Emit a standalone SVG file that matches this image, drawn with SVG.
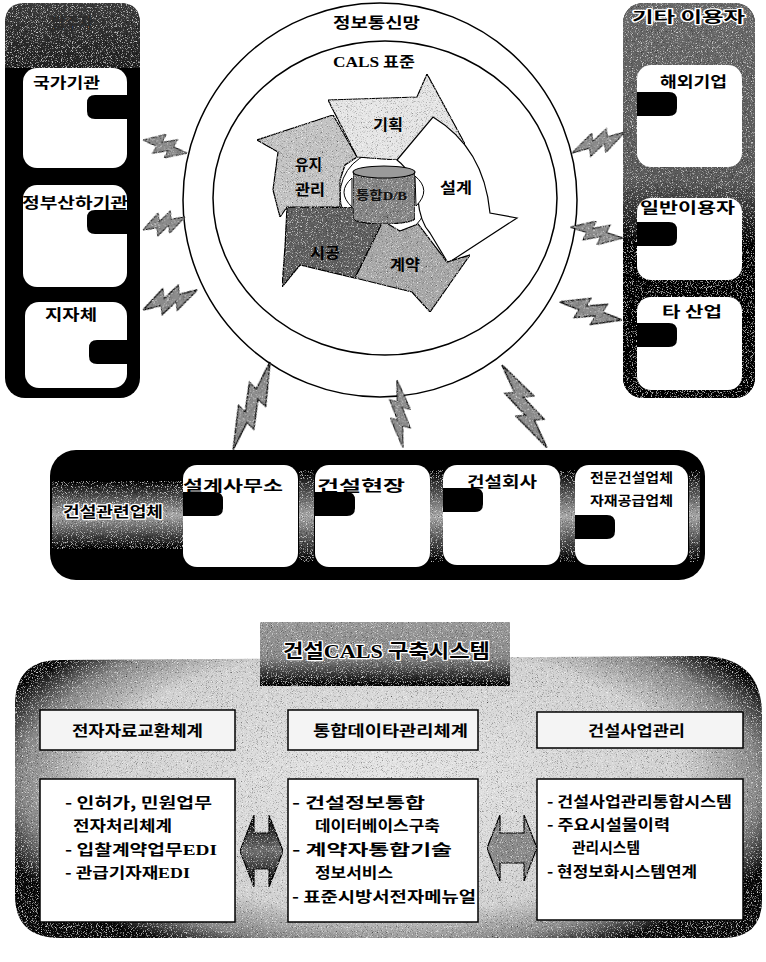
<svg xmlns="http://www.w3.org/2000/svg" width="766" height="962" viewBox="0 0 766 962">
<defs>
<style>
.k{font-family:"Noto Sans CJK KR","Noto Sans",sans-serif;font-weight:700;fill:#000}
.s{font-family:"Liberation Serif",serif;font-weight:700}
.halo{stroke:#fff;stroke-width:2.4;paint-order:stroke;stroke-linejoin:round}
.wbox{fill:#fff}
.edge{stroke:#000;stroke-width:1.5}
.bolt{fill:#8c8c8c;stroke:#000;stroke-width:1.2;vector-effect:non-scaling-stroke}
.tab{fill:#000}
</style>
<filter id="grain" x="0" y="0" width="1" height="1">
<feTurbulence type="fractalNoise" baseFrequency="1.2" numOctaves="1" seed="7" result="n"/>
<feColorMatrix in="n" type="matrix" values="0 0 0 0 0  0 0 0 0 0  0 0 0 0 0  3 0 0 0 -1.62" result="d"/>
<feComposite in="d" in2="SourceAlpha" operator="in" result="dk"/>
<feColorMatrix in="n" type="matrix" values="0 0 0 0 1  0 0 0 0 1  0 0 0 0 1  0 -3 0 0 1.3" result="w"/>
<feComposite in="w" in2="SourceAlpha" operator="in" result="wt"/>
<feMerge><feMergeNode in="SourceGraphic"/><feMergeNode in="dk"/><feMergeNode in="wt"/></feMerge>
</filter>
<linearGradient id="hdrL" x1="0" y1="0" x2="0" y2="1">
<stop offset="0" stop-color="#3c3c3c"/><stop offset="1" stop-color="#222"/>
</linearGradient>
<linearGradient id="hdrR" x1="0" y1="0" x2="0" y2="1">
<stop offset="0" stop-color="#6a6a6a"/><stop offset="0.45" stop-color="#5a5a5a"/><stop offset="0.62" stop-color="#000"/><stop offset="1" stop-color="#000"/>
</linearGradient>
<linearGradient id="band" x1="0" y1="0" x2="0" y2="1">
<stop offset="0" stop-color="#000"/><stop offset="0.5" stop-color="#a8a8a8"/><stop offset="1" stop-color="#000"/>
</linearGradient>
<linearGradient id="title" x1="0" y1="0" x2="0" y2="1">
<stop offset="0" stop-color="#9a9a9a"/><stop offset="0.55" stop-color="#8a8a8a"/><stop offset="1" stop-color="#000"/>
</linearGradient>
<linearGradient id="dark2" x1="0" y1="0" x2="0" y2="1">
<stop offset="0" stop-color="#000"/><stop offset="0.5" stop-color="#707070"/><stop offset="1" stop-color="#000"/>
</linearGradient>
<radialGradient id="gBig" gradientUnits="userSpaceOnUse" cx="390" cy="780" r="420" gradientTransform="translate(390 780) scale(1 0.45) translate(-390 -780)">
<stop offset="0" stop-color="#e6e6e6"/><stop offset="0.7" stop-color="#d2d2d2"/><stop offset="0.88" stop-color="#888"/><stop offset="1" stop-color="#111"/>
</radialGradient>
<path id="boltShape" d="M0,0 L45,-12 L41,-3 L72,-10 L68,-2 L100,0 L55,11 L59,3 L28,10 L32,2 Z"/>
<path id="tabL" d="M40,0 H8 Q0,0 0,8 V16 Q0,24 8,24 H40 Z"/>
<path id="tabR" d="M0,0 H32 Q40,0 40,8 V16 Q40,24 32,24 H0 Z"/>
</defs>

<rect width="766" height="962" fill="#fff"/>

<!-- client organisations (left column) -->
<g id="clients">
<rect x="5" y="3" width="135" height="395" rx="20" fill="#000"/>
<path d="M5,68 V23 Q5,3 25,3 H120 Q140,3 140,23 V68 Z" fill="url(#hdrL)" filter="url(#grain)"/>
<text x="72" y="28" class="k" font-size="15" text-anchor="middle" style="fill:#2a2a2a">발주자</text>
<rect class="wbox" x="23" y="68" width="104" height="100" rx="14"/>
<rect class="wbox" x="23" y="185" width="104" height="102" rx="14"/>
<rect class="wbox" x="25" y="302" width="102" height="86" rx="14"/>
<use href="#tabL" class="tab" x="87" y="95"/>
<use href="#tabL" class="tab" x="87" y="210"/>
<use href="#tabL" class="tab" x="89" y="340"/>
<text class="k" x="33" y="88" font-size="15" textLength="67" lengthAdjust="spacingAndGlyphs">국가기관</text>
<text class="k" x="22" y="208" font-size="15" textLength="106" lengthAdjust="spacingAndGlyphs">정부산하기관</text>
<text class="k" x="45" y="320" font-size="15" textLength="52" lengthAdjust="spacingAndGlyphs">지자체</text>
</g>

<!-- other users (right column) -->
<g id="others">
<rect x="623" y="3" width="132" height="395" rx="20" fill="#000"/>
<rect x="623" y="3" width="132" height="395" rx="20" fill="url(#hdrR)" filter="url(#grain)"/>
<text class="k halo" x="632" y="22" font-size="15" textLength="113" lengthAdjust="spacingAndGlyphs">기타 이용자</text>
<rect class="wbox" x="637" y="65" width="105" height="102" rx="14"/>
<rect class="wbox" x="637" y="198" width="105" height="82" rx="14"/>
<rect class="wbox" x="637" y="297" width="105" height="93" rx="14"/>
<use href="#tabR" class="tab" x="637" y="92"/>
<use href="#tabR" class="tab" x="637" y="222"/>
<use href="#tabR" class="tab" x="637" y="323"/>
<text class="k" x="660" y="87" font-size="15" textLength="67" lengthAdjust="spacingAndGlyphs">해외기업</text>
<text class="k" x="640" y="213" font-size="15" textLength="95" lengthAdjust="spacingAndGlyphs">일반이용자</text>
<text class="k" x="662" y="317" font-size="15" textLength="60" lengthAdjust="spacingAndGlyphs">타 산업</text>
</g>

<!-- network rings with the CALS life-cycle -->
<g id="network">
<circle cx="380" cy="200" r="197" fill="#fff" stroke="#000" stroke-width="1.5"/>
<ellipse cx="385" cy="198" rx="172" ry="157" fill="#fff" stroke="#000" stroke-width="1.5"/>
<text class="k" x="333" y="28" font-size="15" textLength="87" lengthAdjust="spacingAndGlyphs">정보통신망</text>
<text class="k" x="333" y="67" font-size="15" textLength="82" lengthAdjust="spacingAndGlyphs"><tspan class="s">CALS</tspan> 표준</text>
</g>

<g id="lifecycle">
<circle cx="384" cy="195" r="44" fill="#fff" stroke="#000" stroke-width="1"/>
<path id="maintain" d="M257,140 L333,115 L357,157 L345,165 L340,180 L340,207 L287,207 L280,217 L273,190 L278,152 Z" fill="#c4c4c4" stroke="#000" stroke-width="1.2" filter="url(#grain)"/>
<path id="plan" d="M328,100 L417,97 L427,74 L465,144 L397,160 L357,157 Z" fill="#e6e6e6" stroke="#000" stroke-width="1.2" filter="url(#grain)"/>
<path id="design" d="M397,160 L433,117 Q484,148 490,213 L517,218 L448,263 L430,233 Q420,222 418,200 Q414,173 397,160 Z" fill="#fff" stroke="#000" stroke-width="1.2"/>
<path id="build" d="M287,207 L373,208 L383,221 L355,278 L300,265 L282,287 L285,247 Z" fill="#5e5e5e" stroke="#000" stroke-width="1.2" filter="url(#grain)"/>
<path id="contract" d="M383,221 L400,231 L418,224 L447,262 L470,255 L430,312 L412,292 L355,278 Z" fill="#a8a8a8" stroke="#000" stroke-width="1.2" filter="url(#grain)"/>
<path d="M352,178 Q336,192 352,207 Z" fill="#fff" stroke="#000" stroke-width="1"/>
<path d="M415,176 Q432,190 416,206 Z" fill="#fff" stroke="#000" stroke-width="1"/>
<g id="db">
<path d="M353,172 V218 A31,6 0 0 0 415,218 V172 Z" fill="#858585" stroke="#000" stroke-width="1.2" filter="url(#grain)"/>
<ellipse cx="384" cy="172" rx="31" ry="6" fill="#9a9a9a" stroke="#000" stroke-width="1.2"/>
<text class="k" x="356" y="200" font-size="12" textLength="51" lengthAdjust="spacingAndGlyphs" style="fill:#111">통합<tspan class="s">D/B</tspan></text>
</g>
<text class="k" x="373" y="130" font-size="15" textLength="30" lengthAdjust="spacingAndGlyphs">기획</text>
<text class="k" x="295" y="170" font-size="15" textLength="27" lengthAdjust="spacingAndGlyphs">유지</text>
<text class="k" x="295" y="195" font-size="15" textLength="30" lengthAdjust="spacingAndGlyphs">관리</text>
<text class="k" x="440" y="193" font-size="15" textLength="32" lengthAdjust="spacingAndGlyphs">설계</text>
<text class="k" x="310" y="258" font-size="15" textLength="30" lengthAdjust="spacingAndGlyphs">시공</text>
<text class="k" x="390" y="270" font-size="15" textLength="30" lengthAdjust="spacingAndGlyphs">계약</text>
</g>

<!-- construction-related firms (bottom bar) -->
<g id="firms">
<rect x="50" y="450" width="655" height="130" rx="26" fill="#000"/>
<rect x="52" y="481" width="131" height="68" fill="url(#band)" filter="url(#grain)"/>
<rect x="299" y="470" width="15" height="92" fill="url(#band)" filter="url(#grain)"/>
<rect x="430" y="470" width="13" height="92" fill="url(#band)" filter="url(#grain)"/>
<rect x="560" y="470" width="15" height="92" fill="url(#band)" filter="url(#grain)"/>
<rect x="689" y="470" width="11" height="92" fill="url(#band)" filter="url(#grain)"/>
<text class="k halo" x="63" y="517" font-size="15" textLength="100" lengthAdjust="spacingAndGlyphs">건설관련업체</text>
<rect class="wbox" x="183" y="465" width="115" height="102" rx="14"/>
<rect class="wbox" x="315" y="465" width="115" height="102" rx="14"/>
<rect class="wbox" x="443" y="465" width="117" height="100" rx="14"/>
<rect class="wbox" x="575" y="465" width="113" height="100" rx="14"/>
<use href="#tabR" class="tab" x="183" y="492"/>
<use href="#tabR" class="tab" x="315" y="492"/>
<use href="#tabR" class="tab" x="443" y="488"/>
<use href="#tabR" class="tab" x="575" y="515"/>
<text class="k" x="183" y="491" font-size="15" textLength="100" lengthAdjust="spacingAndGlyphs">설계사무소</text>
<text class="k" x="317" y="491" font-size="15" textLength="88" lengthAdjust="spacingAndGlyphs">건설현장</text>
<text class="k" x="467" y="487" font-size="15" textLength="70" lengthAdjust="spacingAndGlyphs">건설회사</text>
<text class="k" x="590" y="482" font-size="13" textLength="83" lengthAdjust="spacingAndGlyphs">전문건설업체</text>
<text class="k" x="590" y="505" font-size="13" textLength="83" lengthAdjust="spacingAndGlyphs">자재공급업체</text>
</g>

<!-- wireless links between the parties and the network -->
<g id="links">
<use href="#boltShape" class="bolt" filter="url(#grain)" transform="translate(143,140) rotate(16.5) scale(0.46,1)"/>
<use href="#boltShape" class="bolt" filter="url(#grain)" transform="translate(143,230) rotate(-17.2) scale(0.44,1)"/>
<use href="#boltShape" class="bolt" filter="url(#grain)" transform="translate(143,310) rotate(-20.3) scale(0.58,1.1)"/>
<use href="#boltShape" class="bolt" filter="url(#grain)" transform="translate(625,132) rotate(158.4) scale(0.57,1)"/>
<use href="#boltShape" class="bolt" filter="url(#grain)" transform="translate(623,238) rotate(191.7) scale(0.54,1)"/>
<use href="#boltShape" class="bolt" filter="url(#grain)" transform="translate(622,320) rotate(196.2) scale(0.65,1.1)"/>
<use href="#boltShape" class="bolt" filter="url(#grain)" transform="translate(270,362) rotate(112.8) scale(0.95,1.1)"/>
<use href="#boltShape" class="bolt" filter="url(#grain)" transform="translate(397,380) rotate(85) scale(0.68,0.9)"/>
<use href="#boltShape" class="bolt" filter="url(#grain)" transform="translate(502,365) rotate(61.5) scale(0.94,1.1)"/>
</g>

<!-- construction CALS system overview -->
<g id="system">
<path d="M60,660 L700,656 Q762,656 762,715 L762,900 Q762,938 722,938 L60,938 Q15,938 15,895 L15,705 Q15,660 60,660 Z" fill="url(#gBig)" filter="url(#grain)"/>
<rect x="260" y="622" width="250" height="64" fill="url(#title)" filter="url(#grain)"/>
<text class="k halo" x="283" y="658" font-size="19" textLength="207" lengthAdjust="spacingAndGlyphs">건설<tspan class="s">CALS</tspan> 구축시스템</text>
</g>

<g id="edi">
<rect x="40" y="710" width="195" height="40" fill="#f4f4f4" class="edge"/>
<text class="k" x="72" y="736" font-size="15" textLength="131" lengthAdjust="spacingAndGlyphs">전자자료교환체계</text>
<rect x="40" y="779" width="195" height="143" class="wbox edge"/>
<text class="k" x="65" y="808" font-size="15" textLength="147" lengthAdjust="spacingAndGlyphs">- 인허가, 민원업무</text>
<text class="k" x="73" y="831" font-size="15" textLength="99" lengthAdjust="spacingAndGlyphs">전자처리체계</text>
<text class="k" x="65" y="855" font-size="15" textLength="152" lengthAdjust="spacingAndGlyphs">- 입찰계약업무<tspan class="s">EDI</tspan></text>
<text class="k" x="65" y="878" font-size="15" textLength="125" lengthAdjust="spacingAndGlyphs">- 관급기자재<tspan class="s">EDI</tspan></text>
</g>

<g id="integrated-data">
<rect x="288" y="710" width="190" height="40" fill="#f4f4f4" class="edge"/>
<text class="k" x="313" y="736" font-size="15" textLength="155" lengthAdjust="spacingAndGlyphs">통합데이타관리체계</text>
<rect x="288" y="779" width="190" height="143" class="wbox edge"/>
<text class="k" x="292" y="808" font-size="15" textLength="133" lengthAdjust="spacingAndGlyphs">- 건설정보통합</text>
<text class="k" x="315" y="831" font-size="15" textLength="125" lengthAdjust="spacingAndGlyphs">데이터베이스구축</text>
<text class="k" x="292" y="855" font-size="15" textLength="160" lengthAdjust="spacingAndGlyphs">- 계약자통합기술</text>
<text class="k" x="315" y="878" font-size="15" textLength="78" lengthAdjust="spacingAndGlyphs">정보서비스</text>
<text class="k" x="292" y="902" font-size="15" textLength="184" lengthAdjust="spacingAndGlyphs">- 표준시방서전자메뉴얼</text>
</g>

<g id="project-management">
<rect x="537" y="712" width="206" height="36" fill="#f4f4f4" class="edge"/>
<text class="k" x="588" y="736" font-size="15" textLength="97" lengthAdjust="spacingAndGlyphs">건설사업관리</text>
<rect x="537" y="779" width="206" height="141" class="wbox edge"/>
<text class="k" x="547" y="807" font-size="15" textLength="185" lengthAdjust="spacingAndGlyphs">- 건설사업관리통합시스템</text>
<text class="k" x="547" y="830" font-size="15" textLength="123" lengthAdjust="spacingAndGlyphs">- 주요시설물이력</text>
<text class="k" x="572" y="853" font-size="15" textLength="68" lengthAdjust="spacingAndGlyphs">관리시스템</text>
<text class="k" x="547" y="877" font-size="15" textLength="150" lengthAdjust="spacingAndGlyphs">- 현정보화시스템연계</text>
</g>

<g id="exchange">
<path d="M240,851 L254,815 L254,833 L269,833 L269,815 L283,851 L269,887 L269,869 L254,869 L254,887 Z" fill="url(#dark2)" stroke="#000" stroke-width="1.2" filter="url(#grain)"/>
<path d="M487,848 L500,815 L500,833 L524,833 L524,815 L537,848 L524,881 L524,863 L500,863 L500,881 Z" fill="#8a8a8a" stroke="#000" stroke-width="1.2" filter="url(#grain)"/>
</g>
</svg>
